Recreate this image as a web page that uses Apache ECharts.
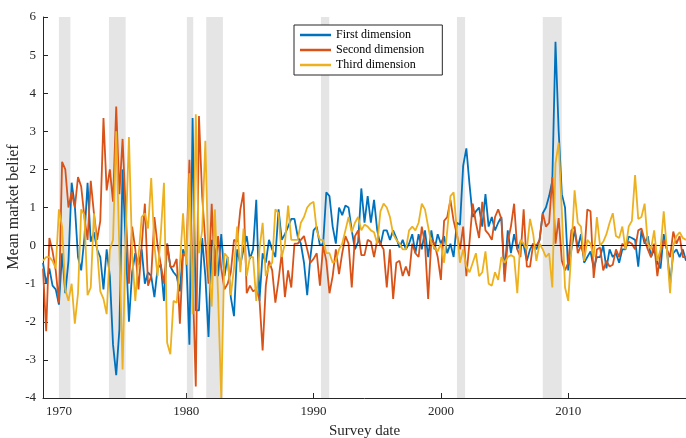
<!DOCTYPE html>
<html>
<head>
<meta charset="utf-8">
<script src="https://cdn.jsdelivr.net/npm/echarts@6/dist/echarts.min.js"></script>
<style>
html,body{margin:0;padding:0;background:#fff;}
#chart{width:686px;height:438px;}
</style>
</head>
<body>
<div id="chart"></div>
<script>
// Quarterly survey dates start at 1968 Q4 (1968.75), one value per quarter
const startYear = 1968.75;
const seriesNames = ['First dimension', 'Second dimension', 'Third dimension'];
const xTickYears = [1970, 1980, 1990, 2000, 2010];
const yTicks = [-4, -3, -2, -1, 0, 1, 2, 3, 4, 5, 6];
const recessions = [[1970.0, 1970.9], [1973.93, 1975.24], [1980.05, 1980.55], [1981.57, 1982.88],
  [1990.58, 1991.23], [2001.26, 2001.9], [2008.0, 2009.49]];

const firstDim = [
 -0.45,-1.0,-0.6,-1.05,-1.15,-1.55,-0.2,-1.25,-0.4,1.65,
 1.05,-0.3,-0.65,0.2,1.65,0.1,0.35,-0.1,-0.3,-1.15,
 -0.1,-0.8,-2.6,-3.4,-2.2,2.0,0.0,-2.0,-0.7,-0.2,
 -0.5,-0.1,-1.0,-0.7,-0.8,-1.35,-0.6,-0.5,-1.45,0.05,
 -0.55,-0.7,-0.8,-1.2,-0.1,-0.3,-2.6,3.35,-1.7,-1.7,
 0.2,-0.8,-2.4,0.15,-0.1,-0.8,0.3,-0.8,-0.3,-1.35,
 -1.85,-0.1,-0.5,-0.1,0.25,-0.35,-0.1,1.2,-1.45,-0.2,
 -0.45,0.15,-0.1,-0.3,0.95,0.15,0.3,0.5,0.7,0.7,
 0.25,0.05,-0.45,-1.3,-0.3,0.4,0.5,0.0,0.05,1.4,
 1.3,0.5,0.05,1.0,0.8,1.05,1.0,0.4,-0.1,0.1,
 1.5,0.6,1.3,0.6,1.2,0.4,0.0,0.4,0.4,0.15,
 0.4,0.2,-0.05,0.15,-0.1,0.05,0.3,-0.2,0.3,-0.1,
 0.4,-0.3,0.4,-0.1,0.3,0.05,0.25,-0.2,0.05,-0.3,
 0.6,0.55,2.1,2.55,1.6,0.75,0.9,1.0,0.5,1.35,
 0.5,0.75,0.4,0.6,0.75,-0.75,0.4,-0.2,0.3,-0.1,
 0.1,0.0,-0.4,-0.1,0.05,-0.1,0.15,0.85,1.0,1.3,
 1.7,5.35,3.0,1.35,1.0,-0.65,-0.1,0.4,-0.05,0.3,
 -0.45,-0.3,-0.15,-0.6,-0.3,-0.3,0.0,-0.6,-0.1,-0.3,
 -0.2,-0.45,-0.1,-0.1,0.24,0.2,0.15,-0.55,0.4,0.05,
 0.25,-0.3,-0.1,-0.45,-0.6,0.3,-0.1,-1.0,-0.2,-0.1,
 -0.3,-0.1,-0.4
];
const secondDim = [
 -0.6,-2.25,0.2,-0.15,-0.65,-1.5,2.2,2.0,1.0,1.4,
 1.0,1.8,1.55,0.75,0.15,1.7,0.85,0.15,0.65,3.35,
 1.45,2.0,1.15,3.65,1.35,2.8,0.9,-1.0,0.5,-0.1,
 -1.15,0.0,1.1,-1.05,-0.8,0.75,0.0,-0.5,-1.0,0.05,
 -0.55,-0.55,-0.35,-2.05,-0.2,-0.3,2.25,-0.8,-3.7,3.4,
 1.3,0.1,-1.0,1.1,-0.8,0.25,-0.6,-1.15,-1.0,-0.7,
 0.15,0.1,0.95,1.4,-1.25,-1.05,-1.2,-1.15,-1.4,-2.75,
 -1.05,-0.4,-0.65,-1.5,-0.9,-0.2,-1.35,-0.65,-1.1,0.05,
 0.05,0.15,0.25,-0.1,-0.45,-0.35,-0.2,-1.05,0.0,-0.4,
 -1.25,-0.8,-0.1,-0.75,-0.2,0.25,0.05,-1.1,0.25,0.4,
 -0.25,-0.25,0.15,0.1,-0.3,0.15,0.05,-0.1,-1.1,-0.1,
 -1.4,-0.45,-0.4,-0.8,-0.55,-0.8,0.05,-0.2,-0.3,0.5,
 0.05,-1.4,0.15,0.05,-0.3,-0.9,0.65,0.75,1.2,0.65,
 0.3,-0.1,0.5,-0.8,0.1,1.1,0.6,0.2,1.15,0.4,
 0.3,0.15,0.75,0.95,0.7,-0.95,0.1,0.5,1.1,-0.1,
 -0.3,0.95,-0.55,-0.55,0.05,0.0,0.15,0.85,0.5,0.6,
 1.8,0.05,0.72,-0.4,-0.65,-0.45,0.4,0.5,-0.2,0.0,
 -0.3,0.95,0.9,-0.85,-0.1,-0.05,-0.65,-0.4,-0.55,-0.5,
 -0.1,-0.3,0.05,-0.05,0.1,0.05,-0.1,0.4,0.45,0.15,
 -0.1,-0.3,0.05,-0.8,-0.2,0.15,-0.1,-0.3,0.37,0.05,
 0.25,-0.3,-0.3
];
const thirdDim = [
 -0.4,-0.3,-0.3,-0.4,-0.6,0.95,0.5,-1.15,-1.45,-1.0,
 -2.05,-1.25,0.95,0.8,-1.3,-1.1,0.85,-0.1,-1.2,-1.4,
 -1.8,-0.1,0.15,3.0,-0.1,-3.25,0.3,2.85,-0.2,-1.45,
 -0.3,0.75,0.85,0.45,1.77,0.0,-0.8,0.3,1.65,-2.55,
 -2.85,-1.45,-1.5,-0.5,0.85,-0.5,1.9,-1.8,3.45,-0.2,
 0.4,2.75,-0.5,-1.6,0.95,-1.3,-4.0,-0.2,-0.3,-1.3,
 -0.6,0.5,-0.7,0.45,-0.8,-0.3,-0.3,-1.45,-0.1,0.6,
 -0.8,-0.55,-0.45,0.95,0.85,-0.3,0.05,1.05,0.15,0.15,
 0.15,0.6,0.75,1.0,1.1,1.15,0.4,0.15,0.15,-0.2,
 -0.2,-0.45,-0.4,-0.1,0.05,0.4,0.75,0.35,0.6,0.75,
 0.4,0.55,0.5,0.4,0.35,0.05,0.9,1.1,1.0,0.75,
 0.3,0.15,0.05,-0.1,-0.1,0.4,0.5,0.4,0.6,1.1,
 0.95,0.5,0.05,-0.05,-0.15,0.05,-0.45,0.4,1.3,1.4,
 0.4,-0.45,-0.1,-0.55,-0.7,-0.45,-0.2,-0.8,-0.7,-0.15,
 -1.0,-1.05,-0.7,-0.9,-0.3,-0.45,-0.3,-0.25,-0.3,-1.25,
 0.15,0.05,-0.1,0.7,0.3,-0.4,0.05,-0.1,-0.3,-0.2,
 -1.1,2.15,2.7,0.9,-1.1,-1.45,-0.1,1.45,0.6,0.5,
 -0.4,0.15,0.05,-0.3,0.75,0.0,0.1,0.3,0.6,0.85,
 0.25,0.2,0.5,-0.1,0.5,0.65,1.85,0.7,0.75,1.1,
 0.05,-0.1,0.4,-0.4,-0.1,0.9,-0.1,-1.25,0.0,0.25,
 0.35,0.2,0.15
];

const colors = ['#0072BD', '#D95319', '#EDB120'];
const font = '"Liberation Serif", "Times New Roman", serif';
const toPairs = arr => arr.map((v, i) => [startYear + i * 0.25, v]);

const chart = echarts.init(document.getElementById('chart'), null, {renderer: 'canvas'});
const lineSeries = [firstDim, secondDim, thirdDim].map((arr, k) => ({
  name: seriesNames[k],
  type: 'line',
  data: toPairs(arr),
  showSymbol: false,
  symbol: 'none',
  z: 3 + k,
  lineStyle: {color: colors[k], width: 1.8},
  itemStyle: {color: colors[k]},
  animation: false
}));

chart.setOption({
  animation: false,
  backgroundColor: '#fff',
  grid: {left: 43, right: 0, top: 17, bottom: 40, containLabel: false, outerBoundsMode: 'none'},
  graphic: [{
    type: 'text', x: 14, y: 207, rotation: Math.PI / 2,
    style: {text: 'Mean market belief', font: '16px ' + font, fill: '#262626',
      textAlign: 'center', textVerticalAlign: 'middle'}
  }],
  legend: {
    data: seriesNames,
    orient: 'vertical',
    left: 294, top: 25,
    padding: [3, 18, 3, 6],
    itemGap: 1,
    itemWidth: 31, itemHeight: 2.5,
    icon: 'rect',
    borderColor: '#262626', borderWidth: 1,
    backgroundColor: '#fff',
    textStyle: {fontFamily: font, fontSize: 12, color: '#000', lineHeight: 14, padding: [0,0,0,0]}
  },
  xAxis: {
    type: 'value', min: 1968.75, max: 2019.25,
    name: 'Survey date', nameLocation: 'middle', nameGap: 26,
    nameTextStyle: {fontFamily: font, fontSize: 15, color: '#262626'},
    axisLine: {show: true, onZero: false, lineStyle: {color: '#262626', width: 1}},
    axisTick: {show: true, inside: true, length: 5, customValues: xTickYears, lineStyle: {color: '#262626'}},
    axisLabel: {customValues: xTickYears, margin: 7, fontFamily: font, fontSize: 13, color: '#262626',
      formatter: v => String(Math.round(v))},
    splitLine: {show: false}
  },
  yAxis: {
    type: 'value', min: -4, max: 6, interval: 1,
    axisLine: {show: true, onZero: false, lineStyle: {color: '#262626', width: 1}},
    axisTick: {show: true, inside: true, length: 5, lineStyle: {color: '#262626'}},
    axisLabel: {margin: 7, fontFamily: font, fontSize: 13, color: '#262626',
      customValues: yTicks},
    splitLine: {show: false}
  },
  series: [
    {
      name: 'recessions', type: 'line', data: [], z: 1, silent: true,
      markArea: {
        silent: true,
        itemStyle: {color: '#e5e5e5'},
        data: recessions.map(r => [{xAxis: r[0]}, {xAxis: r[1]}])
      }
    },
    ...lineSeries,
    {
      name: 'zero', type: 'line', data: [], z: 10, silent: true,
      markLine: {
        silent: true, symbol: 'none', label: {show: false},
        lineStyle: {color: '#1a1a1a', width: 1.1, type: 'solid'},
        data: [{yAxis: 0}]
      }
    }
  ]
});
</script>
</body>
</html>
